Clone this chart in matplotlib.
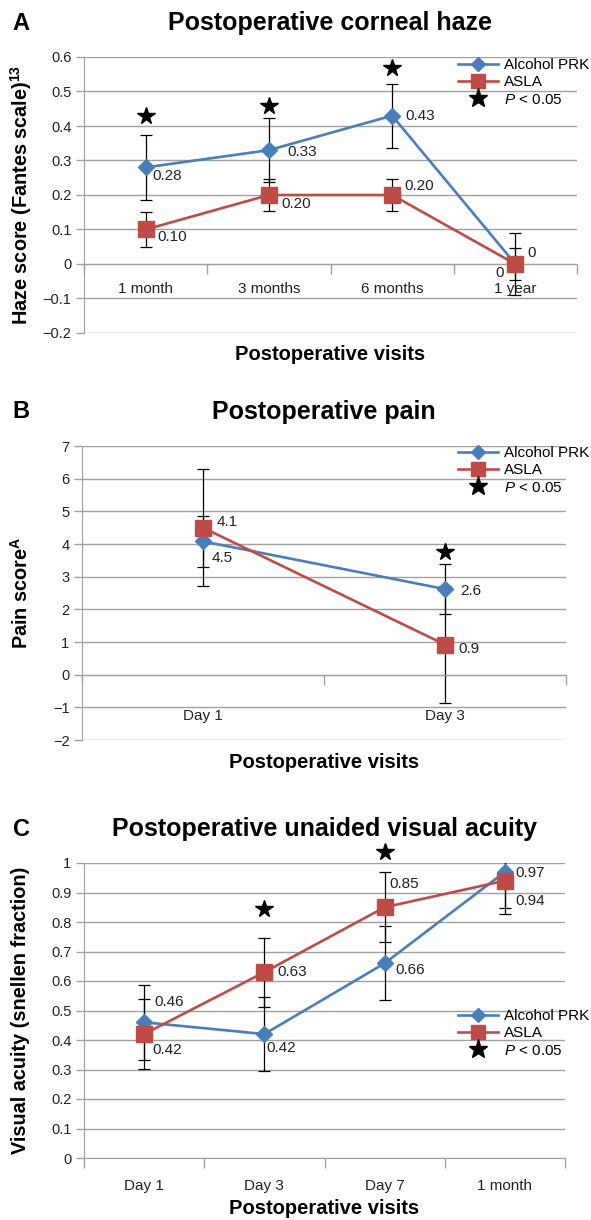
import matplotlib.pyplot as plt
from matplotlib.ticker import MultipleLocator, FuncFormatter
from matplotlib.lines import Line2D

plt.rcParams['font.family'] = ['Liberation Sans', 'DejaVu Sans']
plt.rcParams['mathtext.fontset'] = 'custom'
plt.rcParams['mathtext.rm'] = 'Liberation Sans'
plt.rcParams['mathtext.it'] = 'Liberation Sans:italic'
plt.rcParams['mathtext.bf'] = 'Liberation Sans:bold'

# A - corneal haze
haze_visits = ['1 month', '3 months', '6 months', '1 year']
haze_prk = [0.28, 0.33, 0.43, 0.0]
haze_prk_err = [0.094, 0.093, 0.093, 0.091]
haze_asla = [0.10, 0.20, 0.20, 0.0]
haze_asla_err = [0.05, 0.047, 0.047, 0.047]
haze_prk_lbl = ['0.28', '0.33', '0.43', '0']
haze_asla_lbl = ['0.10', '0.20', '0.20', '0']
haze_star_x = [0, 1, 2]
haze_star_y = [0.43, 0.458, 0.568]

# B - pain
pain_visits = ['Day 1', 'Day 3']
pain_prk = [4.08, 2.62]
pain_prk_err = [0.77, 0.77]
pain_asla = [4.5, 0.92]
pain_asla_err = [1.8, 1.8]
pain_prk_lbl = ['4.1', '2.6']
pain_asla_lbl = ['4.5', '0.9']
pain_star_x = [1]
pain_star_y = [3.76]

# C - unaided visual acuity
va_visits = ['Day 1', 'Day 3', 'Day 7', '1 month']
va_prk = [0.46, 0.42, 0.66, 0.97]
va_prk_err = [0.127, 0.125, 0.125, 0.144]
va_asla = [0.42, 0.63, 0.85, 0.94]
va_asla_err = [0.118, 0.117, 0.118, 0.092]
va_prk_lbl = ['0.46', '0.42', '0.66', '0.97']
va_asla_lbl = ['0.42', '0.63', '0.85', '0.94']
va_star_x = [1, 2]
va_star_y = [0.843, 1.038]

BLUE = '#4a7ebb'
RED = '#be4b48'
GRID = '#a0a0a0'
W, H = 591, 1220


def fmt(v, pos):
    s = f'{v:.1f}'.rstrip('0').rstrip('.') if abs(v) > 1e-9 else '0'
    return s.replace('-', '\u2212')


def make_panel(box, visits, prk, prk_err, asla, asla_err, prk_lbl, asla_lbl,
               prk_off, asla_off, star_x, star_y, ylim, ystep, ylabel,
               title, letter, xpad, leg_y, xlab_y):
    l, r, t, b = box
    ax = fig.add_axes([l / W, 1 - b / H, (r - l) / W, (b - t) / H])
    n = len(visits)
    x = list(range(n))
    ax.errorbar(x, prk, yerr=prk_err, fmt='none', ecolor='black', elinewidth=0.9,
                capsize=4, capthick=0.9, zorder=2.5)
    ax.errorbar(x, asla, yerr=asla_err, fmt='none', ecolor='black', elinewidth=0.9,
                capsize=4, capthick=0.9, zorder=2.5)
    ax.plot(x, prk, color=BLUE, lw=1.9, marker='D', ms=8.5, mfc=BLUE, mec=BLUE, zorder=3)
    ax.plot(x, asla, color=RED, lw=1.9, marker='s', ms=12, mfc=RED, mec=RED, zorder=3.1)
    ax.plot(star_x, star_y, ls='none', marker='*', ms=13, color='black', clip_on=False, zorder=4)

    for i in range(n):
        dx, dy, ha = prk_off[i]
        ax.annotate(prk_lbl[i], (x[i], prk[i]), xytext=(dx, dy), textcoords='offset pixels',
                    ha=ha, va='center', fontsize=11, color='#222222', zorder=5)
        dx, dy, ha = asla_off[i]
        ax.annotate(asla_lbl[i], (x[i], asla[i]), xytext=(dx, dy), textcoords='offset pixels',
                    ha=ha, va='center', fontsize=11, color='#222222', zorder=5)

    ax.set_xlim(-0.5, n - 0.5)
    ax.set_ylim(*ylim)
    ax.yaxis.set_major_locator(MultipleLocator(ystep))
    ax.yaxis.set_major_formatter(FuncFormatter(fmt))
    ax.grid(axis='y', color=GRID, lw=1)
    ax.set_axisbelow(True)

    for s in ['top', 'right']:
        ax.spines[s].set_visible(False)
    ax.spines['left'].set_color(GRID)
    ax.spines['bottom'].set_color(GRID)
    ax.spines['bottom'].set_position(('data', 0))

    ax.set_xticks(x)
    ax.set_xticklabels(visits, fontsize=11, color='#222222')
    ax.set_xticks([i - 0.5 for i in range(n + 1)], minor=True)
    ax.tick_params(axis='x', which='major', length=0, pad=xpad)
    ax.tick_params(axis='x', which='minor', length=7, color=GRID, width=1)
    ax.tick_params(axis='y', length=6, color=GRID, width=1, labelsize=10.5,
                   labelcolor='#222222', pad=3)

    cx = (l + r) / 2 / W
    fig.text(21 / W, 1 - (t + b) / 2 / H, ylabel, rotation=90, ha='center', va='center',
             fontsize=14.3, fontweight='bold')
    fig.text(cx, 1 - xlab_y / H, 'Postoperative visits', ha='center', va='center',
             fontsize=14.5, fontweight='bold')
    fig.text(cx, 1 - (t - 34) / H, title, ha='center', va='center', fontsize=18, fontweight='bold')
    fig.text(21 / W, 1 - (t - 34) / H, letter, ha='center', va='center', fontsize=17, fontweight='bold')

    handles = [Line2D([], [], color=BLUE, lw=1.9, marker='D', ms=7.5),
               Line2D([], [], color=RED, lw=1.9, marker='s', ms=10),
               Line2D([], [], ls='none', color='black', marker='*', ms=14)]
    fig.legend(handles, ['Alcohol PRK', 'ASLA', '$P$ < 0.05'], loc='upper left',
               bbox_to_anchor=(458 / W, 1 - leg_y / H), frameon=False, fontsize=11,
               handlelength=2.6, handletextpad=0.4, labelspacing=0.22, borderpad=0,
               borderaxespad=0)
    return ax


fig = plt.figure(figsize=(W / 100, H / 100), dpi=100)

make_panel((84, 577, 57, 333), haze_visits, haze_prk, haze_prk_err, haze_asla,
           haze_asla_err, haze_prk_lbl, haze_asla_lbl,
           [(7, -9, 'left'), (18, -2, 'left'), (13, 0, 'left'), (12, 11, 'left')],
           [(12, -8, 'left'), (13, -9, 'left'), (12, 9, 'left'), (-12, -9, 'right')],
           haze_star_x, haze_star_y, (-0.2, 0.6), 0.1,
           'Haze score (Fantes scale)$^{\\mathbf{13}}$',
           'Postoperative corneal haze', 'A', 13, 58, 355)

make_panel((82, 566, 446, 740), pain_visits, pain_prk, pain_prk_err, pain_asla,
           pain_asla_err, pain_prk_lbl, pain_asla_lbl,
           [(14, 19, 'left'), (15, -2, 'left')],
           [(9, -30, 'left'), (13, -4, 'left')],
           pain_star_x, pain_star_y, (-2, 7), 1,
           'Pain score$^{\\mathbf{A}}$',
           'Postoperative pain', 'B', 25, 446, 763)

make_panel((84, 565, 863, 1158), va_visits, va_prk, va_prk_err, va_asla,
           va_asla_err, va_prk_lbl, va_asla_lbl,
           [(10, 20, 'left'), (2, -14, 'left'), (11, -7, 'left'), (10, -1, 'left')],
           [(8, -16, 'left'), (13, 0, 'left'), (5, 23, 'left'), (10, -20, 'left')],
           va_star_x, va_star_y, (0, 1), 0.1,
           'Visual acuity (snellen fraction)',
           'Postoperative unaided visual acuity', 'C', 15, 1009, 1208)

fig.savefig('out.png', dpi=100)
